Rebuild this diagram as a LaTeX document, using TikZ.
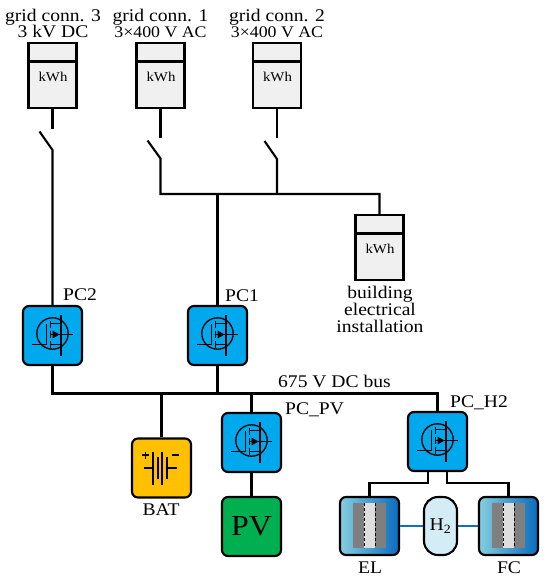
\documentclass[tikz,border=0pt]{standalone}
\usepackage{fontspec}
\setmainfont[FakeStretch=1.1]{Liberation Serif}
\usetikzlibrary{calc}
\definecolor{pcblue}{HTML}{00A9EE}
\definecolor{batyellow}{HTML}{FFC000}
\definecolor{pvgreen}{HTML}{00B050}
\definecolor{metergrey}{HTML}{F0F0F0}
\definecolor{tankblue}{HTML}{D3ECF5}
\definecolor{linkblue}{HTML}{0F70B7}
\definecolor{cellL}{HTML}{85CDE0}
\definecolor{cellR}{HTML}{0A6BBE}
\definecolor{stackgrey}{HTML}{7F7F7F}
\tikzset{
  wire/.style={line width=2.1pt,black},
  meterbox/.style={draw,line width=2.1pt,fill=metergrey,minimum width=48pt,minimum height=65pt,inner sep=0pt},
  pcbox/.style={draw,line width=2.1pt,fill=pcblue,rounded corners=6pt,minimum width=59pt,minimum height=59pt,inner sep=0pt},
  batbox/.style={pcbox,fill=batyellow},
  pvbox/.style={pcbox,fill=pvgreen,font=\fontsize{29}{29}\selectfont},
  cellbox/.style={draw,line width=2.1pt,rounded corners=6pt,left color=cellL,right color=cellR,minimum width=59pt,minimum height=58pt,inner sep=0pt},
  tankbox/.style={draw,line width=2.1pt,fill=tankblue,rounded corners=14pt,minimum width=33pt,minimum height=58pt,inner sep=0pt,font=\fontsize{18}{18}\selectfont},
  lbl/.style={font=\fontsize{17.8}{17.5}\selectfont,inner sep=0pt,align=center},
  kwh/.style={font=\fontsize{13.5}{13}\selectfont,inner sep=0pt},
  link/.style={line width=1.6pt,linkblue},
  fetline/.style={line width=1.3pt,black}
}
\newcommand{\acline}{\fontsize{16.2}{17.5}\selectfont 3×400 V AC}
\newcommand{\meterat}[3]{%
  \node[meterbox] (#1) at (#2,#3) {};
  \draw[wire] ($(#1.north west)+(0,19.5)$) -- ($(#1.north east)+(0,19.5)$);
  \node[kwh] (#1t) at ($(#1.center)+(0.5,1)$) {kWh};
}
\newcommand{\fet}[1]{%
  \begin{scope}[shift={(#1.center)}]
    \draw[fetline] (0,-2) circle (15.7);
    \draw[fetline] (-20.5,9) -- (-6,9) -- (-6,-12);
    \draw[fetline] (-2,-15) -- (-2,-8) (-2,-5) -- (-2,2) (-2,5) -- (-2,12);
    \draw[fetline] (-2,-12) -- (8.5,-12) (8.5,-20.5) -- (8.5,-1);
    \draw[fetline] (-2,9) -- (8.5,9) (8.5,-1) -- (8.5,20.5);
    \draw[fetline] (-2,-1) -- (20,-1);
    \fill (0,-5) -- (7,-1) -- (0,3) -- cycle;
  \end{scope}
}
\newcommand{\stack}[1]{%
  \begin{scope}[shift={(#1.center)}]
    \fill[stackgrey] (-16.5,-23) rectangle (16.5,22);
    \fill[black!13] (-5.5,-23) rectangle (5.5,22);
    \draw[line width=0.9pt,dash pattern=on 3pt off 2pt] (-5.5,-23) -- (-5.5,22) (5.5,-23) -- (5.5,22);
  \end{scope}
}
\begin{document}
\begin{tikzpicture}[x=1pt,y=-1pt]
\useasboundingbox (0,0) rectangle (550,581);
% meters
\meterat{mthree}{52.5}{75.5}
\meterat{mone}{160.5}{75.5}
\meterat{mtwo}{277}{75.5}
\meterat{mbld}{379.5}{247.5}
% grid labels
\node[lbl] (lthree) at (53,23.5) {grid conn. 3\\[-1pt]3 kV DC};
\node[lbl] (lone) at (160.5,23.5) {grid conn. 1\\[-1pt]\acline};
\node[lbl] (ltwo) at (277,23.5) {grid conn. 2\\[-1pt]\acline};
\node[lbl] (lbld) at (380,309.5) {building\\[-0.5pt]electrical\\[-0.5pt]installation};
% converters
\node[pcbox] (pctwo) at (52.5,335.5) {};
\node[pcbox] (pcone) at (217.5,335.5) {};
\node[pcbox] (pcpv) at (251.5,442.5) {};
\node[pcbox] (pchy) at (437.5,441.5) {};
\fet{pctwo}\fet{pcone}\fet{pcpv}\fet{pchy}
\node[lbl,anchor=west] (tpctwo) at (63,295) {PC2};
\node[lbl,anchor=west] (tpcone) at (225,296) {PC1};
\node[lbl,anchor=west] (tpcpv) at (285,410) {PC\_PV};
\node[lbl,anchor=west] (tpchy) at (450,403) {PC\_H2};
\node[lbl,anchor=west] (tbus) at (278,381) {675 V DC bus};
% storage and sources
\node[batbox] (bat) at (161.5,468) {};
\node[pvbox] (pv) at (251.5,526.5) {PV};
\node[lbl] (tbat) at (161,510) {BAT};
\node[cellbox] (el) at (369.5,526) {};
\node[tankbox] (tank) at (440.5,526) {H\textsubscript{2}};
\node[cellbox] (fc) at (508.5,526) {};
\stack{el}\stack{fc}
\node[lbl] (tel) at (370,568) {EL};
\node[lbl] (tfc) at (509,568) {FC};
% battery symbol
\begin{scope}[shift={(bat.center)}]
  \draw[line width=1.3pt] (-17.5,0) -- (-8.5,0) (-8.5,-16.5) -- (-8.5,16.5);
  \draw[line width=2.4pt] (-3.5,-11) -- (-3.5,11);
  \draw[line width=1.3pt] (0.5,-16.5) -- (0.5,16.5);
  \draw[line width=2.4pt] (5.5,-11) -- (5.5,11);
  \draw[line width=1.3pt] (5.5,0) -- (15.5,0);
  \draw[line width=1.3pt] (-19.5,-13) -- (-13,-13) (-16.25,-16.5) -- (-16.25,-9.5);
  \draw[line width=1.3pt] (10.5,-13) -- (17,-13);
\end{scope}
% grid side wiring
\coordinate (swthreetop) at (52.5,129);
\coordinate (swthreehinge) at (52.5,150);
\coordinate (swthreefree) at (39.5,131.5);
\coordinate (swonetop) at (160.5,138);
\coordinate (swonehinge) at (160.5,158.5);
\coordinate (swonefree) at (147.5,140.5);
\coordinate (swtwotop) at (277,138);
\coordinate (swtwohinge) at (277,159);
\coordinate (swtwofree) at (264.5,141);
\coordinate (acone) at (160.5,194);
\coordinate (actwo) at (277,194);
\coordinate (acpc) at (217.5,194);
\coordinate (acbld) at (379.5,194);
\draw[wire] (mthree.south) -- (swthreetop);
\draw[wire] (swthreefree) -- (swthreehinge) -- (pctwo.north);
\draw[wire] (mone.south) -- (swonetop);
\draw[wire] (swonefree) -- (swonehinge) -- (acone) -- (acbld) -- (mbld.north);
\draw[wire] (mtwo.south) -- (swtwotop);
\draw[wire] (swtwofree) -- (swtwohinge) -- (actwo);
\draw[wire] (acpc) -- (pcone.north);
% DC bus
\coordinate (busl) at (52.5,393.5);
\coordinate (busr) at (437.5,393.5);
\coordinate (buspc) at (217.5,393.5);
\coordinate (busbat) at (161.5,393.5);
\coordinate (buspv) at (251.5,393.5);
\draw[wire] (pctwo.south) -- (busl) -- (busr) -- (pchy.north);
\draw[wire] (pcone.south) -- (buspc);
\draw[wire] (busbat) -- (bat.north);
\draw[wire] (buspv) -- (pcpv.north);
\draw[wire] (pcpv.south) -- (pv.north);
% H2 side
\coordinate (hl) at (428,471);
\coordinate (hr) at (447,471);
\coordinate (hlb) at (428,483);
\coordinate (hrb) at (447,483);
\coordinate (ell) at (369.5,483);
\coordinate (fcc) at (508.5,483);
\draw[wire] (hl) -- (hlb) -- (ell) -- (el.north);
\draw[wire] (hr) -- (hrb) -- (fcc) -- (fc.north);
\draw[link] (el.east) -- (tank.west);
\draw[link] (tank.east) -- (fc.west);
\end{tikzpicture}
\end{document}
